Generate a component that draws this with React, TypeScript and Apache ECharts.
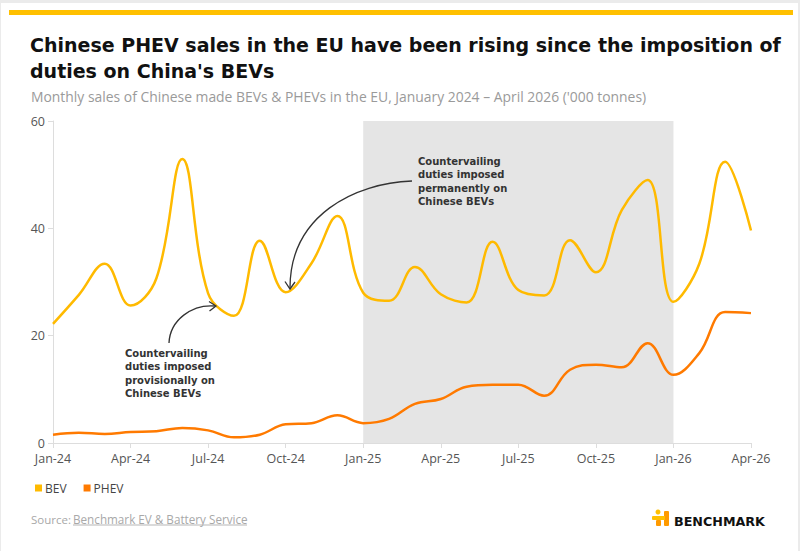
import React, { useEffect, useRef } from "react";
import * as echarts from "echarts";

const months = [
  "Jan-24","Feb-24","Mar-24","Apr-24","May-24","Jun-24","Jul-24","Aug-24","Sep-24","Oct-24","Nov-24","Dec-24",
  "Jan-25","Feb-25","Mar-25","Apr-25","May-25","Jun-25","Jul-25","Aug-25","Sep-25","Oct-25","Nov-25","Dec-25",
  "Jan-26","Feb-26","Mar-26","Apr-26",
];
const bev = [22.2, 27.6, 33.4, 25.6, 30.7, 52.9, 27.9, 23.7, 37.7, 28.1, 33.5, 42.3,
  28.0, 26.5, 32.8, 27.7, 26.2, 37.5, 28.5, 27.5, 37.8, 31.8, 43.4, 49.0,
  26.3, 33.4, 52.4, 39.6];
const phev = [1.55, 1.9, 1.7, 2.05, 2.2, 2.8, 2.35, 1.05, 1.55, 3.5, 3.7, 5.15,
  3.7, 4.5, 7.3, 8.2, 10.5, 10.85, 10.85, 8.8, 13.65, 14.6, 14.1, 18.6,
  12.7, 16.75, 24.4, 24.2];
const yTicks = [0, 20, 40, 60];
const shadedPeriod = ["Jan-25", "Jan-26"];

const TITLE_1 = "Chinese PHEV sales in the EU have been rising since the imposition of";
const TITLE_2 = "duties on China's BEVs";
const SUBTITLE = "Monthly sales of Chinese made BEVs & PHEVs in the EU, January 2024 \u2013 April 2026 ('000 tonnes)";
const NOTE_1 = ["Countervailing", "duties imposed", "provisionally on", "Chinese BEVs"];
const NOTE_2 = ["Countervailing", "duties imposed", "permanently on", "Chinese BEVs"];

const BEV_COLOR = "#FFBA00";
const PHEV_COLOR = "#FF7A00";
const FONT = "'Open Sans', 'Noto Sans', sans-serif";
const TITLE_FONT = "'DejaVu Sans', 'Open Sans', sans-serif";

const OX = 1;
const OY = 3;
const px = (x: number) => x - OX;
const py = (y: number) => y - OY;

export default function App() {
  const ref = useRef<HTMLDivElement>(null);

  useEffect(() => {
    if (!ref.current) return;
    document.body.style.margin = "0";
    const chart = echarts.init(ref.current, undefined, { renderer: "svg" });

    const noteText = (lines: string[], x: number, yTop: number) => ({
      type: "text",
      z: 100,
      style: {
        text: lines.join("\n"),
        x: px(x),
        y: py(yTop),
        fill: "#333333",
        fontFamily: TITLE_FONT,
        fontSize: 10,
        fontWeight: "bold",
        lineHeight: 13.5,
        textVerticalAlign: "top",
      },
    });

    const graphic: any[] = [
      {
        type: "rect",
        shape: { x: px(9), y: py(10), width: 784, height: 5 },
        style: { fill: "#FFC000" },
      },
      {
        type: "text",
        style: {
          text: TITLE_1, x: px(30), y: py(45), fill: "#111111",
          fontFamily: TITLE_FONT, fontSize: 19, fontWeight: "bold", textVerticalAlign: "middle",
        },
      },
      {
        type: "text",
        style: {
          text: TITLE_2, x: px(30), y: py(71), fill: "#111111",
          fontFamily: TITLE_FONT, fontSize: 19, fontWeight: "bold", textVerticalAlign: "middle",
        },
      },
      {
        type: "text",
        style: {
          text: SUBTITLE, x: px(31), y: py(96), fill: "#9a9a9a",
          fontFamily: FONT, fontSize: 13.9, textVerticalAlign: "middle",
        },
      },
      noteText(NOTE_1, 125, 346.5),
      noteText(NOTE_2, 418, 154.3),
      {
        type: "bezierCurve",
        z: 100,
        shape: {
          x1: px(169), y1: py(343), cpx1: px(170), cpy1: py(320),
          cpx2: px(192), cpy2: py(304), x2: px(215), y2: py(306),
        },
        style: { stroke: "#333333", lineWidth: 1.3, fill: null },
      },
      {
        type: "polyline",
        z: 100,
        shape: { points: [[px(209), py(301.5)], [px(216), py(306)], [px(209.5), py(311)]] },
        style: { stroke: "#333333", lineWidth: 1.3, fill: null },
      },
      {
        type: "bezierCurve",
        z: 100,
        shape: {
          x1: px(412), y1: py(181), cpx1: px(355), cpy1: py(183),
          cpx2: px(290), cpy2: py(215), x2: px(290), y2: py(288),
        },
        style: { stroke: "#333333", lineWidth: 1.3, fill: null },
      },
      {
        type: "polyline",
        z: 100,
        shape: { points: [[px(285), py(281.5)], [px(290), py(289)], [px(295), py(282)]] },
        style: { stroke: "#333333", lineWidth: 1.3, fill: null },
      },
      {
        type: "text",
        style: {
          text: "Source: ", x: px(31), y: py(519), fill: "#a8a8a8",
          fontFamily: FONT, fontSize: 11.5, textVerticalAlign: "middle",
        },
      },
      {
        type: "text",
        style: {
          text: "Benchmark EV & Battery Service", x: px(73), y: py(519), fill: "#a8a8a8",
          fontFamily: FONT, fontSize: 11.7, textVerticalAlign: "middle",
        },
      },
      {
        type: "line",
        shape: { x1: px(73), y1: py(525), x2: px(247), y2: py(525) },
        style: { stroke: "#b5b5b5", lineWidth: 1 },
      },
      // logo
      {
        type: "circle",
        shape: { cx: px(658), cy: py(512), r: 2.5 },
        style: { fill: "#FFC000" },
      },
      {
        type: "rect",
        shape: { x: px(652), y: py(516), width: 9, height: 4, r: 1 },
        style: { fill: "#FFC000" },
      },
      {
        type: "rect",
        shape: { x: px(656), y: py(520), width: 5, height: 6, r: 1 },
        style: { fill: "#FF9A00" },
      },
      {
        type: "rect",
        shape: { x: px(664), y: py(511), width: 5, height: 15, r: 1 },
        style: { fill: "#FF9A00" },
      },
      {
        type: "rect",
        shape: { x: px(660), y: py(516), width: 5, height: 4 },
        style: { fill: "#FFC000" },
      },
      {
        type: "text",
        style: {
          text: "BENCHMARK", x: px(674), y: py(521), fill: "#111111",
          fontFamily: "'DejaVu Sans', sans-serif", fontSize: 12.7, fontWeight: "bold",
          textVerticalAlign: "middle",
        },
      },
    ];

    chart.setOption({
      animation: false,
      backgroundColor: "#ffffff",
      grid: { left: px(53), right: 798 - 751, top: py(121), bottom: 551 - 443, containLabel: false },
      legend: {
        left: px(30),
        top: py(477),
        icon: "rect",
        itemWidth: 7,
        itemHeight: 7,
        itemGap: 17,
        textStyle: { color: "#444444", fontFamily: FONT, fontSize: 12, padding: [0, 0, 0, -2] },
        data: ["BEV", "PHEV"],
      },
      xAxis: {
        type: "category",
        data: months,
        boundaryGap: false,
        axisLine: { lineStyle: { color: "#dddddd", width: 1 } },
        axisTick: { show: true, interval: 2, length: 5, lineStyle: { color: "#dddddd" } },
        axisLabel: { interval: 2, color: "#555555", fontFamily: FONT, fontSize: 12.5, margin: 9 },
        splitLine: { show: false },
      },
      yAxis: {
        type: "value",
        min: yTicks[0],
        max: yTicks[yTicks.length - 1],
        interval: 20,
        axisLine: { show: true, lineStyle: { color: "#dddddd", width: 1 } },
        axisTick: { show: true, length: 5, lineStyle: { color: "#dddddd" } },
        axisLabel: { color: "#555555", fontFamily: FONT, fontSize: 12.5, margin: 8 },
        splitLine: { show: false },
      },
      series: [
        {
          name: "BEV",
          type: "line",
          data: bev,
          smooth: 0.4,
          symbol: "none",
          itemStyle: { color: BEV_COLOR },
          lineStyle: { color: BEV_COLOR, width: 2.5 },
          z: 3,
          markArea: {
            silent: true,
            itemStyle: { color: "#e5e5e5" },
            data: [[{ xAxis: shadedPeriod[0] }, { xAxis: shadedPeriod[1] }]],
          },
        },
        {
          name: "PHEV",
          type: "line",
          data: phev,
          smooth: 0.4,
          symbol: "none",
          itemStyle: { color: PHEV_COLOR },
          lineStyle: { color: PHEV_COLOR, width: 2.5 },
          z: 3,
        },
      ],
      graphic,
    });

    return () => chart.dispose();
  }, []);

  return (
    <div style={{ position: "relative", width: 800, height: 551, background: "#ebebeb", overflow: "hidden" }}>
      <div
        ref={ref}
        style={{ position: "absolute", left: OX, top: OY, width: 797, height: 548 }}
      />
    </div>
  );
}
